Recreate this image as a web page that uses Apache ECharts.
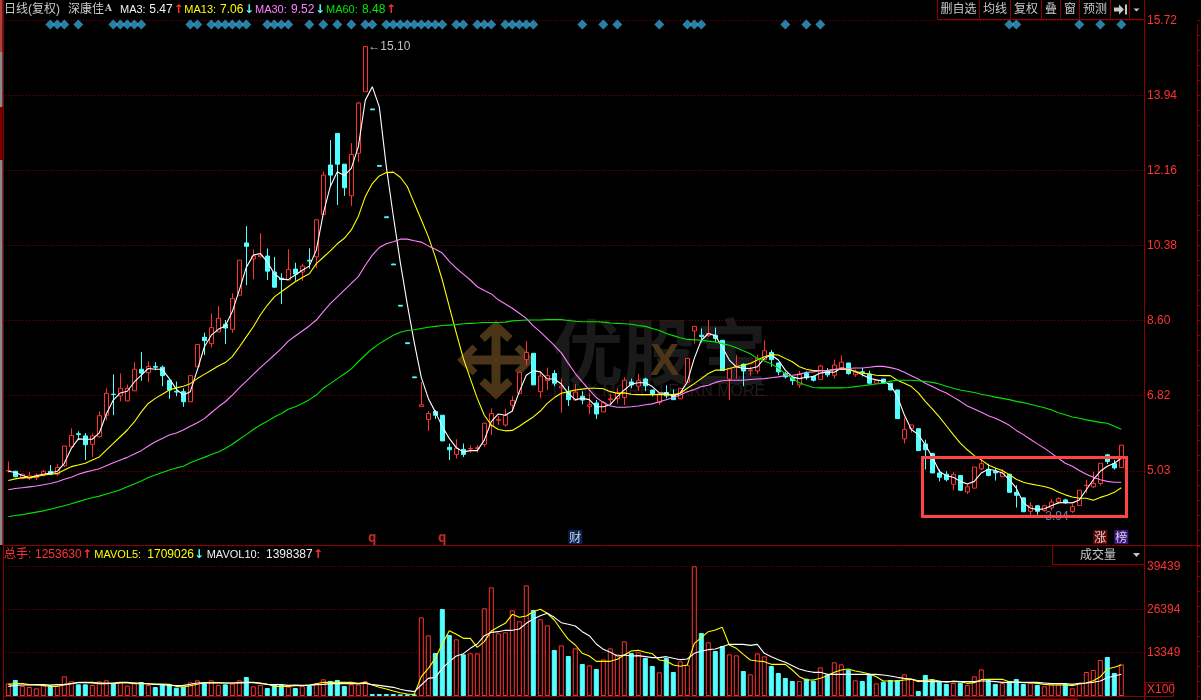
<!DOCTYPE html>
<html><head><meta charset="utf-8">
<style>html,body{margin:0;padding:0;background:#000}#c{width:1201px;height:700px}</style>
<script src="https://cdn.jsdelivr.net/npm/echarts@6/dist/echarts.min.js"></script>
</head><body><div id="c"></div>
<script>
const opens=[5.03,5.02,4.85,4.85,4.87,4.92,5.02,4.95,5.15,5.6,
5.91,5.86,5.66,5.84,6.35,6.85,6.81,6.69,6.93,7.44,
7.36,7.51,7.49,7.18,6.92,6.91,6.67,7.5,8.2,8.05,
8.33,8.51,8.39,9.2,10.44,10.06,10.11,10.13,9.75,9.6,
9.56,9.82,9.75,10.03,10.11,11.12,12.29,13.04,12.31,11.56,
12.57,14.03,13.62,12.28,11.06,9.94,8.96,8.07,7.26,6.56,
6.25,6.44,6.35,5.59,5.42,5.54,5.55,5.56,5.66,6.1,
6.23,6.12,6.59,6.87,7.67,7.82,6.91,7.17,7.34,7.0,
6.91,6.71,6.8,6.56,6.64,6.43,6.72,6.75,6.77,7.14,
7.04,7.21,6.95,6.65,6.89,6.84,6.74,7.14,8.35,8.25,
8.24,8.25,8.13,7.21,7.5,7.56,7.41,7.4,7.67,7.84,
7.59,7.34,7.24,7.07,7.35,7.27,7.2,7.41,7.3,7.47,
7.59,7.31,7.38,7.33,7.11,7.21,7.11,6.95,5.79,6.03,
6.03,5.67,5.44,4.98,4.95,4.71,4.92,4.53,4.62,5.08,
5.07,5.02,4.89,4.95,4.52,4.39,4.07,4.2,4.09,4.15,
4.29,4.34,4.07,4.21,4.68,4.65,4.73,5.41,5.2,5.11];
const closes=[5.04,4.89,4.95,4.91,4.93,5.02,4.95,5.11,5.62,5.87,
5.89,5.65,5.86,6.34,6.87,6.84,6.99,6.99,7.44,7.35,
7.51,7.49,7.29,6.95,6.9,6.67,7.29,8.03,8.12,8.43,
8.65,8.42,9.12,10.03,10.36,10.13,10.15,9.77,9.39,9.57,
9.81,9.7,9.89,10.01,10.99,12.05,12.05,12.31,11.75,12.54,
13.76,15.10,13.6,12.26,11.04,9.92,8.94,8.05,7.24,6.6,
6.39,6.35,5.74,5.53,5.57,5.42,5.56,5.58,6.16,6.39,
6.25,6.35,6.7,7.37,7.84,7.07,7.28,7.29,7.11,7.04,
6.72,6.9,6.71,6.6,6.38,6.65,6.74,6.88,7.18,7.07,
7.17,7.05,6.84,6.87,6.81,6.72,6.99,7.7,8.46,8.22,
8.29,8.17,7.41,7.45,7.52,7.4,7.42,7.7,7.88,7.67,
7.38,7.26,7.17,7.33,7.24,7.18,7.52,7.31,7.54,7.61,
7.34,7.37,7.37,7.11,7.18,7.11,6.95,6.27,6.01,6.12,
5.51,5.53,4.98,4.88,4.82,4.94,4.57,4.65,5.12,5.2,
4.92,4.98,5.0,4.52,4.45,4.06,4.2,4.07,4.2,4.29,
4.37,4.27,4.18,4.57,4.69,4.73,5.21,5.25,5.1,5.64];
const highs=[5.25,5.03,4.96,5.0,4.97,5.05,5.17,5.19,5.62,6.04,
5.97,5.93,5.92,6.44,6.99,7.32,7.34,7.08,7.61,7.85,
7.63,7.61,7.53,7.18,7.15,6.99,7.29,8.03,8.31,8.77,
8.94,8.61,9.24,10.03,10.84,10.29,10.67,10.31,10.11,9.72,
10.29,9.97,9.95,10.31,10.99,12.13,12.88,13.04,12.31,12.81,
13.79,15.10,13.62,12.28,11.06,9.94,8.96,8.07,7.26,7.14,
6.45,6.47,6.35,5.68,5.78,5.68,5.64,5.64,6.16,6.51,
6.33,6.5,6.8,7.37,8.11,7.82,7.38,7.48,7.42,7.22,
7.04,7.09,6.92,6.87,6.71,6.69,6.85,6.99,7.25,7.22,
7.33,7.24,6.95,6.88,7.06,6.96,7.0,7.7,8.46,8.41,
8.61,8.43,8.13,7.45,7.78,7.58,7.5,7.79,8.13,7.9,
7.6,7.38,7.24,7.4,7.39,7.29,7.55,7.47,7.67,7.77,
7.59,7.44,7.47,7.41,7.19,7.21,7.12,6.95,6.29,6.12,
6.03,5.77,5.46,5.06,5.02,5.0,4.93,4.72,5.12,5.31,
5.2,5.1,5.07,4.96,4.69,4.39,4.29,4.22,4.22,4.36,
4.41,4.37,4.24,4.57,4.82,5.01,5.21,5.43,5.29,5.64];
const lows=[4.99,4.88,4.83,4.81,4.81,4.9,4.93,4.91,5.13,5.58,
5.76,5.29,5.36,5.82,6.23,6.35,6.68,6.68,6.93,7.17,
7.14,7.42,7.04,6.74,6.8,6.55,6.67,7.5,7.78,7.96,
8.33,8.04,8.31,9.2,9.44,9.58,10.1,9.56,9.37,8.99,
9.56,9.54,9.54,9.83,9.84,11.1,11.77,11.34,11.56,11.32,
12.36,14.03,13.6,12.26,11.04,9.92,8.94,8.05,7.24,6.56,
5.98,6.26,5.74,5.29,5.32,5.36,5.46,5.46,5.6,5.88,
6.12,6.08,6.43,6.85,7.54,7.07,6.76,6.95,7.04,6.41,
6.57,6.69,6.61,6.38,6.26,6.43,6.59,6.63,6.59,6.99,
6.93,6.92,6.8,6.59,6.75,6.71,6.73,7.14,8.05,8.08,
8.21,8.09,7.41,6.71,7.22,7.04,7.29,7.33,7.66,7.5,
7.3,7.22,7.07,7.0,7.19,7.15,7.19,7.26,7.22,7.44,
7.31,7.26,7.27,7.1,7.1,7.1,6.94,6.27,5.68,5.94,
5.51,5.06,4.98,4.78,4.78,4.57,4.55,4.48,4.62,5.04,
4.9,4.8,4.88,4.52,4.16,4.05,3.94,3.99,4.06,4.09,
4.26,4.25,4.03,4.21,4.5,4.62,4.68,5.19,5.06,5.11];
const ma3=[5.02,4.99,4.92,4.87,4.91,4.95,4.98,5.02,5.21,5.56,
5.79,5.78,5.78,5.93,6.38,6.71,6.88,6.92,7.14,7.3,
7.46,7.44,7.44,7.22,6.97,6.83,6.91,7.42,7.97,8.25,
8.39,8.47,8.81,9.32,9.86,10.15,10.19,9.99,9.71,9.58,
9.57,9.68,9.79,9.89,10.27,11.14,11.78,12.13,12.04,12.21,
12.72,13.83,14.15,13.67,12.25,11.08,9.98,8.98,8.07,7.25,
6.75,6.43,6.08,5.8,5.58,5.48,5.51,5.51,5.76,6.2,
6.38,6.35,6.45,6.91,7.3,7.41,7.38,7.21,7.21,7.09,
6.87,6.72,6.75,6.72,6.55,6.55,6.6,6.79,6.95,7.09,
7.12,7.12,7.03,6.88,6.87,6.8,6.88,7.14,7.7,8.13,
8.29,8.24,7.97,7.66,7.5,7.46,7.46,7.5,7.7,7.78,
7.66,7.42,7.26,7.22,7.25,7.27,7.35,7.38,7.37,7.47,
7.45,7.39,7.31,7.23,7.19,7.16,7.07,6.8,6.36,6.01,
5.89,5.65,5.36,5.02,4.91,4.88,4.78,4.72,4.78,4.98,
5.07,5.04,4.98,4.82,4.62,4.27,4.15,4.11,4.13,4.2,
4.27,4.28,4.27,4.34,4.58,4.82,5.02,5.14,5.21,5.33];
const ma13=[4.8,4.84,4.87,4.87,4.89,4.93,4.95,4.97,5.05,5.13,
5.17,5.21,5.29,5.36,5.52,5.68,5.84,6.0,6.19,6.43,
6.63,6.75,6.85,6.95,7.0,7.04,7.1,7.22,7.32,7.42,
7.52,7.6,7.74,7.97,8.21,8.45,8.73,8.96,9.16,9.28,
9.4,9.52,9.62,9.71,9.95,10.1,10.25,10.42,10.55,10.75,
11.07,11.54,11.85,12.03,12.11,12.12,12.0,11.78,11.38,10.99,
10.59,10.11,9.56,8.93,8.3,7.7,7.22,6.75,6.35,6.12,
6.01,5.98,5.99,6.09,6.2,6.31,6.45,6.63,6.77,6.87,
6.91,6.95,6.97,6.99,6.99,6.98,6.91,6.87,6.88,6.85,
6.84,6.84,6.84,6.84,6.84,6.84,6.87,6.99,7.1,7.22,
7.34,7.42,7.42,7.46,7.5,7.54,7.58,7.66,7.74,7.79,
7.78,7.7,7.62,7.5,7.44,7.41,7.41,7.41,7.43,7.44,
7.43,7.39,7.35,7.33,7.3,7.29,7.29,7.18,7.11,7.03,
6.88,6.68,6.5,6.31,6.1,5.89,5.69,5.53,5.39,5.29,
5.17,5.1,5.04,4.94,4.83,4.76,4.72,4.69,4.66,4.61,
4.53,4.46,4.41,4.38,4.38,4.33,4.4,4.45,4.52,4.63];
const ma30=[4.58,4.61,4.63,4.65,4.67,4.7,4.73,4.77,4.83,4.88,
4.95,5.0,5.04,5.08,5.15,5.22,5.29,5.35,5.43,5.51,
5.62,5.72,5.8,5.88,5.93,6.0,6.09,6.17,6.27,6.41,
6.55,6.67,6.83,7.0,7.16,7.32,7.48,7.63,7.78,7.93,
8.11,8.23,8.35,8.47,8.61,8.81,9.0,9.16,9.32,9.48,
9.64,9.91,10.15,10.33,10.42,10.47,10.53,10.53,10.49,10.46,
10.37,10.29,10.2,10.0,9.84,9.7,9.56,9.4,9.31,9.23,
9.09,8.99,8.89,8.77,8.65,8.47,8.33,8.17,8.01,7.83,
7.58,7.34,7.14,6.95,6.77,6.65,6.57,6.54,6.54,6.55,
6.57,6.6,6.62,6.67,6.72,6.77,6.83,6.91,6.96,7.03,
7.06,7.13,7.17,7.18,7.18,7.18,7.2,7.21,7.22,7.24,
7.26,7.29,7.3,7.32,7.37,7.38,7.41,7.41,7.44,7.45,
7.46,7.47,7.47,7.49,7.51,7.51,7.48,7.44,7.37,7.29,
7.21,7.11,7.03,6.95,6.88,6.78,6.68,6.57,6.5,6.42,
6.34,6.28,6.2,6.11,5.99,5.89,5.78,5.67,5.57,5.45,
5.33,5.21,5.14,5.04,4.95,4.88,4.82,4.78,4.76,4.76];
const ma60=[3.94,3.97,3.99,4.02,4.05,4.08,4.12,4.16,4.2,4.25,
4.3,4.35,4.39,4.43,4.48,4.53,4.58,4.65,4.72,4.79,
4.87,4.93,4.99,5.05,5.1,5.14,5.22,5.29,5.35,5.42,
5.48,5.56,5.66,5.78,5.89,6.01,6.12,6.21,6.31,6.39,
6.49,6.55,6.63,6.72,6.83,6.99,7.1,7.22,7.33,7.45,
7.62,7.78,7.93,8.05,8.15,8.25,8.32,8.36,8.38,8.41,
8.44,8.46,8.48,8.49,8.5,8.52,8.53,8.54,8.55,8.55,
8.55,8.56,8.59,8.6,8.61,8.61,8.61,8.62,8.62,8.62,
8.6,8.58,8.57,8.57,8.57,8.56,8.54,8.53,8.52,8.51,
8.48,8.46,8.41,8.36,8.29,8.24,8.19,8.15,8.14,8.13,
8.11,8.09,8.05,8.01,7.95,7.88,7.81,7.7,7.64,7.57,
7.47,7.33,7.23,7.12,7.06,7.01,7.0,7.0,7.0,7.0,
7.01,7.03,7.05,7.07,7.09,7.11,7.16,7.18,7.18,7.18,
7.17,7.15,7.13,7.09,7.04,6.99,6.95,6.92,6.89,6.85,
6.82,6.78,6.75,6.72,6.68,6.65,6.61,6.57,6.53,6.48,
6.41,6.36,6.31,6.28,6.24,6.21,6.18,6.16,6.09,6.02];
const volumes=[3861,4877,3048,2743,2337,3150,3353,3150,5994,4470,
3556,3556,3353,4470,4775,3861,4166,3150,4166,4267,
3353,2743,3556,3556,2540,2845,4166,4775,3861,4775,
3353,3556,3759,4775,5791,2946,3353,2438,3556,3353,
2845,2438,3048,3048,3861,5080,4572,4877,3048,3556,
3556,4470,610,610,610,610,508,508,508,23978,
18491,13106,26518,18593,17272,12700,13005,13005,26721,33122,
19101,19406,26111,22758,33731,26213,23368,21539,14021,15443,
12192,14529,9754,9347,8230,11176,14529,12700,16662,13106,
13310,11582,9144,7214,11582,7315,10566,9449,39522,19202,
16358,13716,15240,12700,12395,7620,6604,13005,12090,9144,
7010,5486,4572,4572,5283,4674,8738,6604,10262,9652,
7925,4775,4572,6706,3861,4369,4877,4877,6604,5182,
1524,6401,5080,4369,3658,3962,4064,3353,5994,8128,
4877,3658,3962,4572,5182,3658,3962,3353,2946,3556,
3556,3658,2337,3962,7315,7925,10973,11887,7010,9652];
const mavol5=[3556,3759,3759,3454,3353,3251,2946,2946,3353,3759,
4166,4166,4166,3962,3962,3759,3962,3962,3759,3759,
3759,3658,3658,3556,2946,2743,3150,3556,3962,4064,
4064,3962,3962,3962,4166,4166,3962,3556,2946,2946,
2946,3150,3150,3353,3759,4166,4166,4166,4166,4166,
3861,4166,3353,2642,2134,1524,1016,610,508,5893,
8433,11481,15850,19914,18796,17577,17577,14834,16561,19812,
21031,22149,24892,23978,24384,25705,26416,25197,23165,20117,
17272,15545,13005,12192,10566,10566,10566,11176,12497,13716,
13919,13310,12903,10973,10668,9449,9042,9449,16053,17780,
19609,20117,20930,15545,14529,12700,10973,10668,10465,9652,
9652,9652,7925,5893,4877,4877,5385,6198,7214,7925,
8230,7620,7214,6706,5893,4572,4572,4572,4877,5080,
4369,4674,4978,4572,4166,4572,4369,3861,4064,4978,
5080,5080,5080,4369,4267,4064,4064,3861,3556,3353,
3353,3353,3150,3658,3962,4674,5893,8230,8738,9449];
const mavol10=[2946,3251,3353,3353,3454,3454,3353,3454,3556,3759,
4064,4064,3962,3759,3759,3962,4166,4166,3962,3962,
3658,3556,3454,3251,3150,3251,3556,3962,4064,3962,
3962,3962,3962,4064,4166,4064,3861,3556,3454,3454,
3251,3353,3251,3251,3454,3556,3759,3759,3759,3759,
3759,3861,3454,3251,2946,2642,2032,1626,1321,3353,
5385,5690,8433,10465,12192,12903,14529,15850,18390,19406,
19609,20015,20015,20422,22149,23470,24486,25197,23978,22352,
21844,21336,19609,18390,15850,14224,13310,12192,12497,12192,
12294,11989,11684,11684,11989,11481,11074,11278,13005,13716,
14122,14326,15037,15748,15748,15748,15443,15748,13005,11989,
11074,10262,9246,8230,7620,7214,7214,6604,6604,6604,
6604,6604,6604,6604,6604,6401,6096,5690,5385,5182,
4674,4470,4369,4369,4369,4369,4369,4369,4369,4572,
4572,4369,4166,4166,4166,4166,4166,4166,3962,3759,
3759,3759,3556,3861,3962,4166,4572,5588,6096,6604];
const signalIndex=[6,7,8,10,15,16,17,18,19,26,27,29,30,31,32,33,34,37,38,39,40,43,45,47,49,51,52,54,55,56,57,58,59,60,61,62,64,65,67,68,69,71,72,73,74,75,82,85,87,93,97,98,99,111,114,116,143,144,153,156,159];
const priceTicks=[15.72,13.94,12.16,10.38,8.60,6.82,5.03];
const volumeTicks=[39439,26394,13349];
const tagIndex=[52,62,81,156,159];
const tagText=['q','q','财','涨','榜'];
const tagPrice=3.46, signalPrice=15.625;

const RED='#ff3232',CYAN='#54ffff',AX='#8c0000',GRID='#8c0000';
const FONT='"Liberation Sans","Noto Sans CJK SC",sans-serif';
const categories=Array.from({length:163},(_,i)=>String(i));
const candle=opens.map((o,i)=>[o,closes[i],lows[i],highs[i]]);
const volData=volumes.map((v,i)=>({value:v,itemStyle:closes[i]>=opens[i]?{color:'#000',borderColor:RED,borderWidth:1}:{color:CYAN,borderColor:CYAN,borderWidth:1}}));

const ln=(name,data,color,xi)=>({name,type:'line',data,xAxisIndex:xi,yAxisIndex:xi,symbol:'none',showSymbol:false,silent:true,lineStyle:{color,width:1.1},z:5});
const T=(text,x,y,fill,font,align)=>({type:'text',z:50,silent:true,style:{text,x,y,fill,font:font||('12px '+FONT),verticalAlign:'middle',align:align||'left'}});
const S='11px '+FONT, ARW='bold 12px "DejaVu Sans"';
const L=(x1,y1,x2,y2,stroke,w,z)=>({type:'line',z:z||40,silent:true,shape:{x1,y1,x2,y2},style:{stroke:stroke||AX,lineWidth:w||1}});
const P=(points,fill,z)=>({type:'polygon',z:z||50,silent:true,shape:{points},style:{fill}});
const PL=(points,stroke,w)=>({type:'polyline',z:-1,silent:true,shape:{points},style:{stroke,lineWidth:w,fill:null}});

const G=[];
G.push({type:'rect',z:30,silent:true,shape:{x:0,y:0,width:2.5,height:52},style:{fill:'#b04040'}});
G.push({type:'rect',z:30,silent:true,shape:{x:0,y:52,width:2.5,height:55},style:{fill:'#8a8a8a'}});
G.push({type:'rect',z:30,silent:true,shape:{x:0,y:107,width:2.5,height:53},style:{fill:'#7a0000'}});
G.push({type:'rect',z:30,silent:true,shape:{x:0,y:160,width:2.5,height:385},style:{fill:'#8a8a8a'}});
G.push(L(3.5,0,3.5,700));
G.push(L(1144.5,0,1144.5,700));
G.push(L(3,545.5,1198,545.5));
G.push(L(3,696.5,1144,696.5));
G.push(L(934,699.5,1078,699.5));
G.push(L(1006,699.5,1078,699.5,'#a00000',2));
G.push(L(1197.5,24,1197.5,700));
G.push(T('日线(复权)',4,10,'#c8c8c8'),T('深康佳',68,10,'#c8c8c8'),T('A',105,9,'#c8c8c8','bold 9px "DejaVu Serif"'));
G.push(T('MA3:',120,10,'#f0f0f0',S),T('5.47',149.3,10,'#f0f0f0'),T('↑',173.5,10,RED,ARW));
G.push(T('MA13:',184.3,10,'#ffff00',S),T('7.06',220,10,'#ffff00'),T('↓',244,10,CYAN,ARW));
G.push(T('MA30:',255,10,'#ff80ff',S),T('9.52',291,10,'#ff80ff'),T('↓',315,10,CYAN,ARW));
G.push(T('MA60:',326,10,'#00e600',S),T('8.48',362,10,'#00e600'),T('↑',386,10,RED,ARW));
const cells=[937.5,979.5,1010.5,1041.5,1060.5,1079.5,1110.5,1129.5,1144.5];
const cellText=['删自选','均线','复权','叠','窗','预测'];
cells.forEach(x=>G.push(L(x,0,x,19.5)));
G.push(L(937.5,19.5,1144.5,19.5));
cellText.forEach((t,i)=>G.push(T(t,(cells[i]+cells[i+1])/2,10,'#c8c8c8','12px '+FONT,'center')));
G.push(P([[1114,7.5],[1119,7.5],[1119,4.5],[1124,9.5],[1119,14.5],[1119,11.5],[1114,11.5]],'#c8c8c8'));
G.push({type:'rect',z:50,silent:true,shape:{x:1125,y:4.5,width:2,height:10},style:{fill:'#c8c8c8'}});
G.push(P([[1133.5,8.5],[1139.5,8.5],[1136.5,11.5]],'#c8c8c8'));
G.push(T('总手:',4,555,RED),T('1253630',35,555,RED),T('↑',82,555,RED,ARW));
G.push(T('MAVOL5:',94.3,555,'#ffff00',S),T('1709026',147.3,555,'#ffff00'),T('↓',194,555,CYAN,ARW));
G.push(T('MAVOL10:',206.7,555,'#f0f0f0',S),T('1398387',266,555,'#f0f0f0'),T('↑',313,555,RED,ARW));
G.push(L(1052.5,545,1052.5,565),L(1052.5,564.5,1144.5,564.5));
G.push(T('成交量',1080,556,'#c8c8c8'));
G.push(P([[1133,553],[1140,553],[1136.5,557]],'#c8c8c8'));
G.push({type:'rect',z:50,silent:true,shape:{x:1145.5,y:682.5,width:28,height:14},style:{stroke:AX,lineWidth:1,fill:'none'}});
G.push(T('X100',1147,690,RED));
G.push({type:'rect',z:100,silent:true,shape:{x:922.5,y:457.5,width:204,height:59},style:{stroke:'#ff4444',lineWidth:3,fill:'none'}});
const br='#4a3518';
G.push(PL([[496,328],[496,392]],br,9),PL([[466,360],[526,360]],br,9));
G.push(PL([[482,339],[496,326],[510,339]],br,8),PL([[482,381],[496,394],[510,381]],br,8));
G.push(PL([[475,347],[462,360],[475,373]],br,7),PL([[517,347],[530,360],[517,373]],br,7));
G.push({type:'text',z:-1,silent:true,style:{text:'优股宝',x:551,y:352,fill:'#1a1a1a',font:'bold 72px "Noto Sans CJK SC"',verticalAlign:'middle'}});
G.push({type:'text',z:-1,silent:true,style:{text:'X',x:650,y:363,fill:br,font:'bold 44px "Liberation Sans"',verticalAlign:'middle'}});
G.push({type:'text',z:-1,silent:true,style:{text:'THINK MORE, LEARN MORE',x:550,y:392,fill:'#1d1d1d',font:'16px "Liberation Sans"',verticalAlign:'middle'}});

const tagStyle=[{color:RED,fontWeight:'bold',fontSize:13},{color:RED,fontWeight:'bold',fontSize:13},
 {color:'#fff',backgroundColor:'#0a2a6a',padding:[1,1]},{color:'#fff',backgroundColor:'#7a0a0a',padding:[1,1]},{color:'#fff',backgroundColor:'#4a1a9a',padding:[1,1]}];

const chart=echarts.init(document.getElementById('c'),null,{renderer:'canvas'});
chart.setOption({
 animation:false,backgroundColor:'#000',graphic:{elements:G},
 grid:[{left:4.8,top:20.5,width:1141,height:524.5},{left:4.8,top:546,width:1141,height:150}],
 xAxis:[0,1].map(g=>({type:'category',gridIndex:g,data:categories,boundaryGap:true,show:false})),
 yAxis:[
  {type:'value',gridIndex:0,min:3.27,max:15.72,position:'right',offset:-1.3,
   axisLine:{show:false},axisTick:{show:false,customValues:priceTicks},
   axisLabel:{customValues:priceTicks,formatter:v=>v.toFixed(2),color:RED,fontSize:12,fontFamily:'Liberation Sans',margin:2.5,align:'left',padding:[5,0,0,0],showMinLabel:true,showMaxLabel:true},
   splitLine:{show:true,lineStyle:{color:GRID,type:[1,2],width:1}}},
  {type:'value',gridIndex:1,min:0,max:45720,position:'right',offset:-1.3,
   axisLine:{show:false},axisTick:{show:false,customValues:volumeTicks},
   axisLabel:{customValues:volumeTicks,formatter:v=>String(v),color:RED,fontSize:12,fontFamily:'Liberation Sans',margin:2.5,align:'left',padding:[5,0,0,0]},
   splitLine:{show:true,lineStyle:{color:GRID,type:[1,2],width:1}}},
  {type:'value',gridIndex:0,min:0,max:100,interval:2.86,position:'right',offset:51.7,axisLine:{show:false},axisTick:{show:true,length:3,lineStyle:{color:AX}},axisLabel:{show:false},splitLine:{show:false}},
  {type:'value',gridIndex:1,min:0,max:100,interval:10,position:'right',offset:51.7,axisLine:{show:false},axisTick:{show:true,length:3,lineStyle:{color:AX}},axisLabel:{show:false},splitLine:{show:false}}
 ],
 series:[
  {name:'K',type:'candlestick',data:candle,xAxisIndex:0,yAxisIndex:0,barWidth:5,silent:true,z:3,
   itemStyle:{color:'#000',color0:CYAN,borderColor:RED,borderColor0:CYAN,borderWidth:1},
   markPoint:{silent:true,symbol:'circle',symbolSize:0,animation:false,data:[
    {coord:[51,15.10],label:{show:true,position:'right',distance:3,formatter:'←15.10',color:'#c0c0c0',fontSize:12,fontFamily:'Liberation Sans'}},
    {coord:[146,3.94],label:{show:true,position:'right',distance:15,formatter:'3.94',color:'#5f7fb0',fontSize:12,fontFamily:'Liberation Sans'}}
   ]}},
  ln('MA3',ma3,'#ffffff',0),ln('MA13',ma13,'#ffff00',0),ln('MA30',ma30,'#ff80ff',0),ln('MA60',ma60,'#00e600',0),
  {name:'signal',type:'scatter',xAxisIndex:0,yAxisIndex:0,silent:true,symbol:'diamond',symbolSize:10,itemStyle:{color:'#33a0d0'},data:signalIndex.map(i=>[i,signalPrice]),z:4},
  {name:'tags',type:'scatter',xAxisIndex:0,yAxisIndex:0,silent:true,symbolSize:0,z:6,
   data:tagIndex.map((i,k)=>({value:[i,tagPrice],label:Object.assign({show:true,position:'inside',formatter:tagText[k],fontSize:12,fontFamily:'"Noto Sans CJK SC"'},tagStyle[k])}))},
  {name:'VOL',type:'bar',data:volData,xAxisIndex:1,yAxisIndex:1,barWidth:5,silent:true,z:3},
  ln('MAVOL5',mavol5,'#ffff00',1),ln('MAVOL10',mavol10,'#ffffff',1)
 ]
});
</script></body></html>
